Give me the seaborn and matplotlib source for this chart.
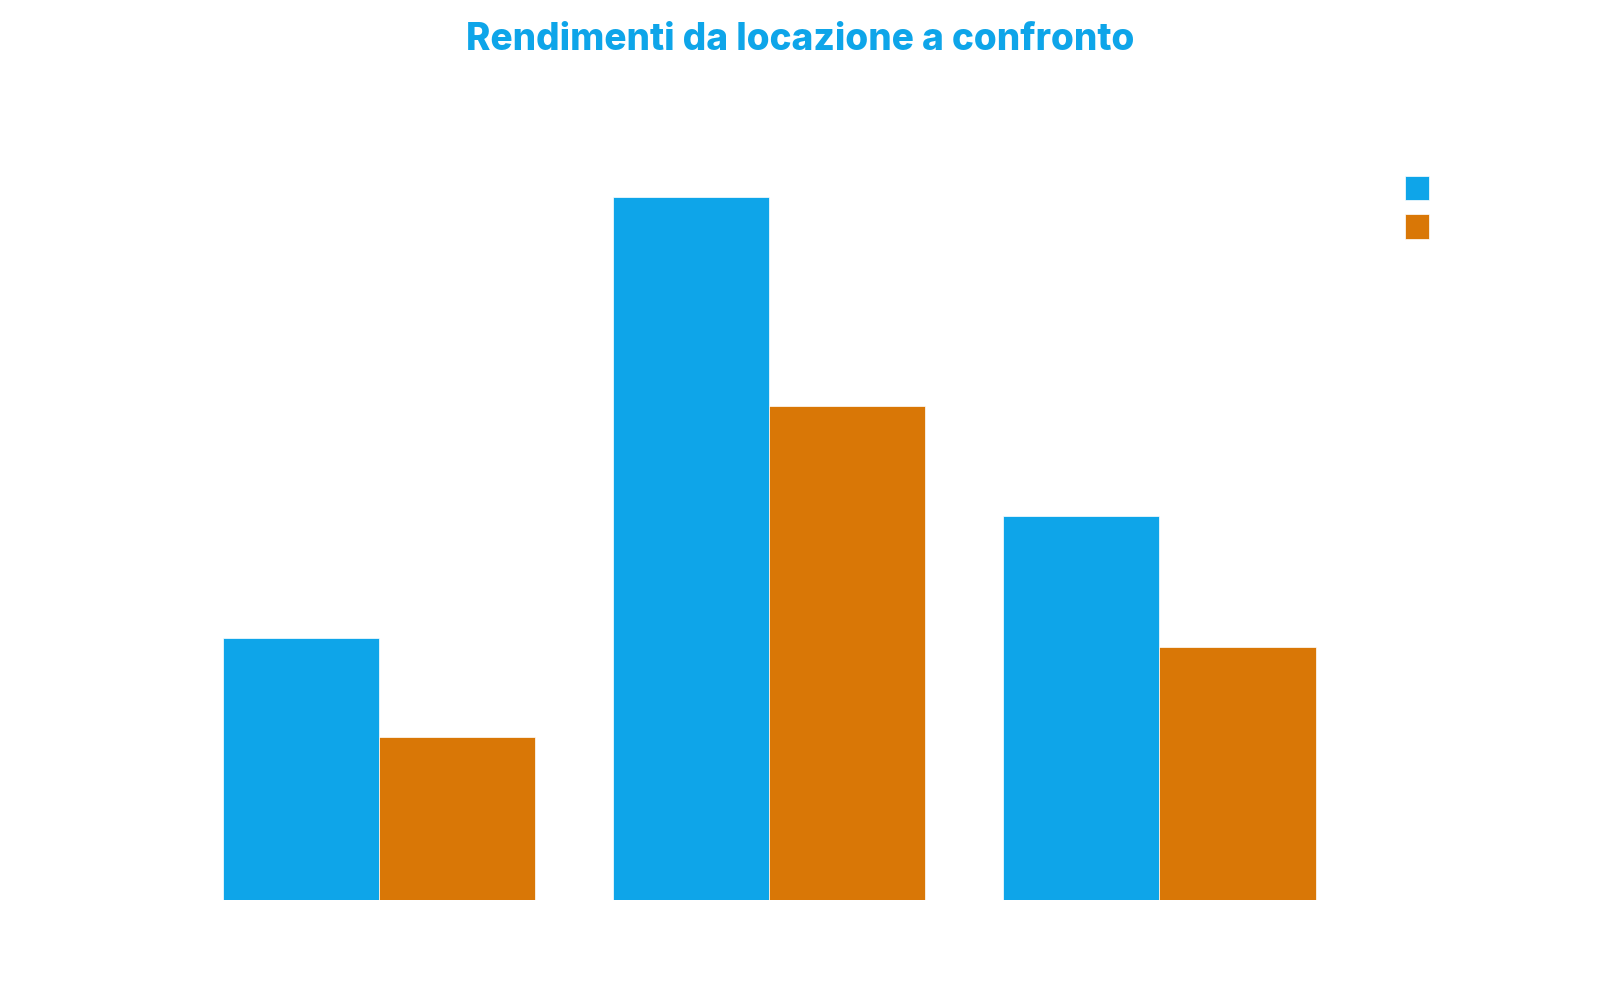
import matplotlib
matplotlib.use("Agg")
import matplotlib.pyplot as plt
import pandas as pd
import seaborn as sns

# Values (no tick labels are shown there)
categories = ["Immobile A", "Immobile B", "Immobile C"]
series_names = ["Rendimento lordo", "Rendimento netto"]
gross = [3.2, 8.6, 4.7]
net = [2.0, 6.05, 3.1]
colors = ["#0EA5E9", "#D97706"]

df = pd.DataFrame({
    "categoria": categories * 2,
    "serie": [series_names[0]] * 3 + [series_names[1]] * 3,
    "valore": gross + net,
})

sns.set_theme(style="white")
plt.rcParams["font.family"] = ["Inter", "Roboto", "DejaVu Sans"]

fig = plt.figure(figsize=(16, 10), dpi=100)
ax = fig.add_axes([0.1147, 0.1, 0.7319, 0.738])

sns.barplot(
    data=df,
    x="categoria",
    y="valore",
    hue="serie",
    palette=colors,
    saturation=1,
    width=0.8,
    edgecolor="white",
    linewidth=0.5,
    errorbar=None,
    ax=ax,
)

ax.set_ylim(0, max(gross + net) * 1.05)
ax.set_xlim(-0.5, len(categories) - 0.5)
ax.set_xlabel("")
ax.set_ylabel("")
ax.set_xticks([])
ax.set_yticks([])
sns.despine(ax=ax, left=True, bottom=True)

# Legend: swatches only, as in the reference
handles, _ = ax.get_legend_handles_labels()
ax.legend(
    handles,
    ["", ""],
    loc="upper left",
    bbox_to_anchor=(0.878, 0.824),
    bbox_transform=fig.transFigure,
    frameon=False,
    fontsize=14,
    handlelength=1.24,
    handleheight=1.55,
    handletextpad=0.4,
    labelspacing=0.72,
    borderpad=0,
    borderaxespad=0,
)

fig.suptitle(
    "Rendimenti da locazione a confronto",
    x=0.5, y=0.96, va="center",
    fontsize=26.6, fontweight="heavy", color="#0EA5E9",
)

fig.savefig("out.png", dpi=100, facecolor="white")
plt.close(fig)
